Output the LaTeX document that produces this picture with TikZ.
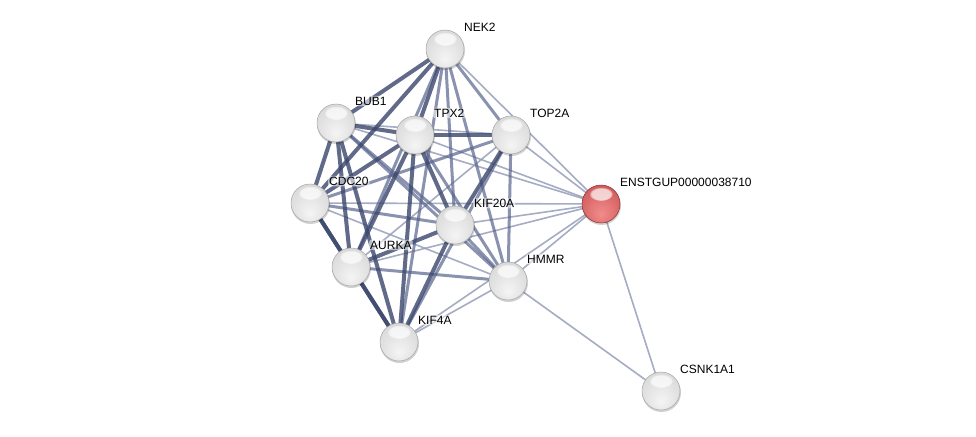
\documentclass[tikz,border=0pt]{standalone}
\usepackage{fontspec}
\setmainfont{Liberation Sans}
\usetikzlibrary{shadings,backgrounds,fadings}
\definecolor{edark}{RGB}{58,70,108}
\definecolor{emid}{RGB}{88,100,140}
\definecolor{elight}{RGB}{150,158,185}
\pgfdeclareradialshading{glossgray}{\pgfpoint{0bp}{-14bp}}{%
  color(0bp)=(gray!8); color(20bp)=(gray!22); color(36bp)=(gray!32);
  color(46bp)=(gray!45); color(52bp)=(gray!60); color(60bp)=(gray!75)}
\pgfdeclareradialshading{glossred}{\pgfpoint{0bp}{-14bp}}{%
  color(0bp)=(rgb,255:red,242;green,140;blue,140); color(20bp)=(rgb,255:red,222;green,110;blue,110);
  color(36bp)=(rgb,255:red,200;green,88;blue,88); color(46bp)=(rgb,255:red,180;green,70;blue,70);
  color(52bp)=(rgb,255:red,150;green,50;blue,50); color(60bp)=(rgb,255:red,120;green,35;blue,35)}
\tikzset{
  prot/.style={circle,minimum size=38pt,inner sep=0pt,shading=glossgray,draw=gray!70,line width=0.5pt},
  protred/.style={circle,minimum size=38pt,inner sep=0pt,shading=glossred,draw={rgb,255:red,140;green,45;blue,45},line width=0.5pt},
  shad/.style={circle,minimum size=39pt,inner sep=0pt,fill=black,opacity=0.18},
  hilite/.style={fill=white,opacity=0.7,path fading=circle with fuzzy edge 20 percent},
  lab/.style={anchor=west,inner sep=1pt,font=\fontsize{12}{14}\selectfont,text=black,
    fill=white,fill opacity=0.55,text opacity=1,rounded corners=2pt},
  strong/.style={draw=edark,line width=4pt,opacity=0.8},
  mid/.style={draw=emid,line width=3pt,opacity=0.7},
  weak/.style={draw=elight,line width=1.6pt,opacity=0.85}
}
\begin{document}
\begin{tikzpicture}[x=1pt,y=-1pt]
\begin{pgfonlayer}{background}
\fill[white] (0,0) rectangle (976,436);
\end{pgfonlayer}
\useasboundingbox (0,0) rectangle (976,436);
% shadows
\foreach \x/\y in {445/49,336/123,415/135,511/135,310/203,455/225,351/267,508/281,399/342,601/204,661/391}
  \node[shad] at (\x+0.5,\y+1.5) {};
% nodes
\node[prot] (NEK2) at (445,49) {};
\node[prot] (BUB1) at (336,123) {};
\node[prot] (TPX2) at (415,135) {};
\node[prot] (TOP2A) at (511,135) {};
\node[prot] (CDC20) at (310,203) {};
\node[prot] (KIF20A) at (455,225) {};
\node[prot] (AURKA) at (351,267) {};
\node[prot] (HMMR) at (508,281) {};
\node[prot] (KIF4A) at (399,342) {};
\node[protred] (ENST) at (601,204) {};
\node[prot] (CSNK) at (661,391) {};
% highlights
\foreach \n in {NEK2,BUB1,TPX2,TOP2A,CDC20,KIF20A,AURKA,HMMR,KIF4A,ENST,CSNK}
  \fill[hilite] ([yshift=10pt]\n.center) ellipse [x radius=12, y radius=7];
% labels
\node[lab] (lNEK2) at ([shift={(18,-22)}]NEK2.center) {NEK2};
\node[lab] (lBUB1) at ([shift={(18,-22)}]BUB1.center) {BUB1};
\node[lab] (lTPX2) at ([shift={(18,-22)}]TPX2.center) {TPX2};
\node[lab] (lTOP2A) at ([shift={(18,-22)}]TOP2A.center) {TOP2A};
\node[lab] (lCDC20) at ([shift={(18,-22)}]CDC20.center) {CDC20};
\node[lab] (lKIF20A) at ([shift={(18,-22)}]KIF20A.center) {KIF20A};
\node[lab] (lAURKA) at ([shift={(18,-22)}]AURKA.center) {AURKA};
\node[lab] (lHMMR) at ([shift={(18,-22)}]HMMR.center) {HMMR};
\node[lab] (lKIF4A) at ([shift={(18,-22)}]KIF4A.center) {KIF4A};
\node[lab] (lENST) at ([shift={(18,-22)}]ENST.center) {ENSTGUP00000038710};
\node[lab] (lCSNK) at ([shift={(18,-22)}]CSNK.center) {CSNK1A1};
% edges, behind the nodes
\begin{pgfonlayer}{background}
\foreach \a in {NEK2,BUB1,TPX2,TOP2A,CDC20,KIF20A,AURKA,HMMR,KIF4A,CSNK}
  \draw[weak] (\a.center) -- (ENST.center);
\draw[weak] (HMMR.center) -- (CSNK.center);
\draw[weak] (HMMR.center) -- (KIF4A.center);
\draw[weak] (BUB1.center) -- (TOP2A.center);
\draw[weak] (AURKA.center) -- (TOP2A.center);
\draw[weak] (CDC20.center) -- (HMMR.center);
\foreach \a/\b in {NEK2/TOP2A,NEK2/HMMR,NEK2/KIF20A,NEK2/AURKA,BUB1/HMMR,TPX2/HMMR,TOP2A/KIF4A,
  TOP2A/HMMR,CDC20/KIF20A,BUB1/KIF20A,TOP2A/CDC20,NEK2/KIF4A,KIF20A/HMMR,AURKA/HMMR}
  \draw[mid] (\a.center) -- (\b.center);
\foreach \a/\b in {NEK2/BUB1,NEK2/TPX2,NEK2/CDC20,BUB1/TPX2,BUB1/CDC20,BUB1/AURKA,BUB1/KIF4A,
  TPX2/TOP2A,TPX2/CDC20,TPX2/KIF20A,TPX2/AURKA,TPX2/KIF4A,TOP2A/KIF20A,CDC20/AURKA,CDC20/KIF4A,
  KIF20A/AURKA,KIF20A/KIF4A,AURKA/KIF4A}
  \draw[strong] (\a.center) -- (\b.center);
\end{pgfonlayer}
\end{tikzpicture}
\end{document}
